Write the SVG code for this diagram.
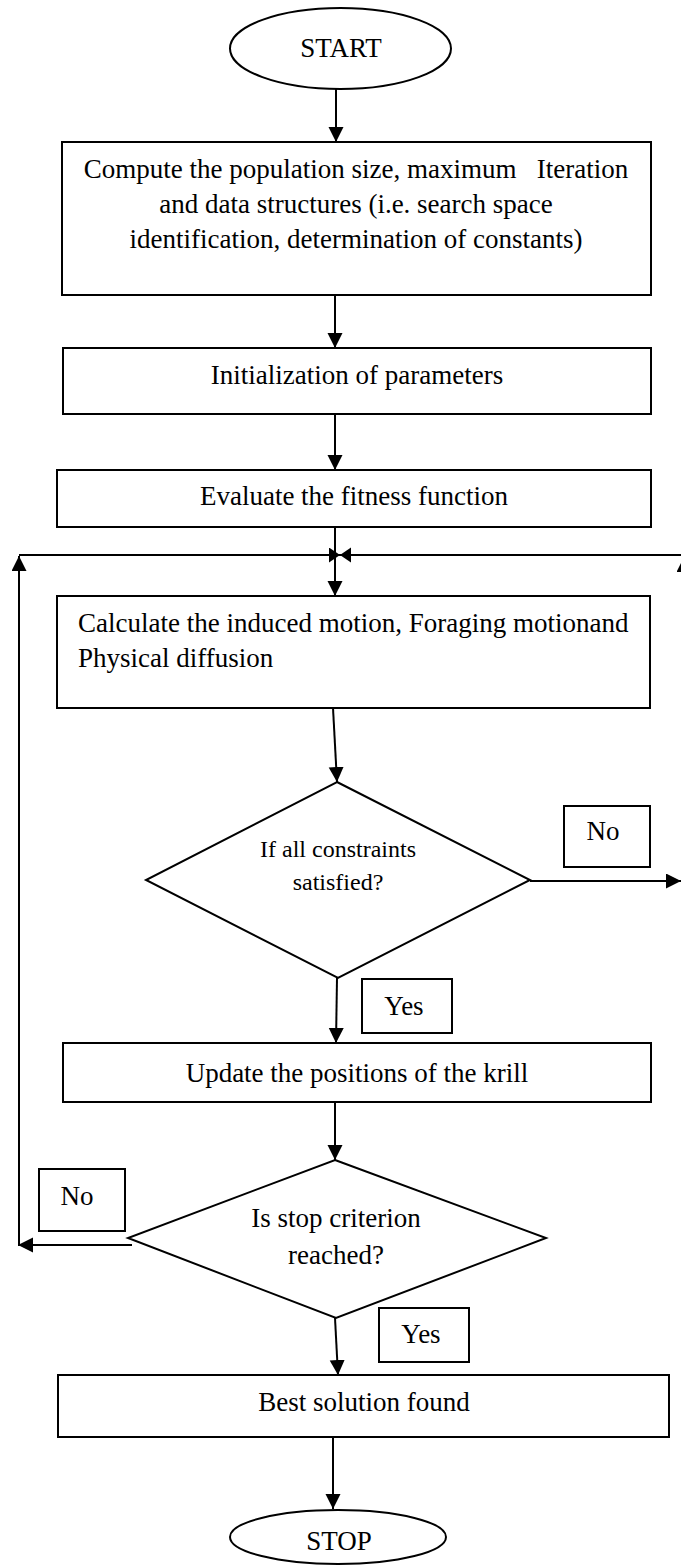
<svg xmlns="http://www.w3.org/2000/svg" width="681" height="1565" viewBox="0 0 681 1565">
<style>
.shape{fill:#fff;stroke:#000;stroke-width:2}
.lbl{fill:#fff;stroke:#000;stroke-width:2}
.t{font-family:"Liberation Serif","Times New Roman",serif;font-size:27px;fill:#000;text-anchor:middle}
.ts{font-family:"Liberation Serif","Times New Roman",serif;font-size:24px;fill:#000;text-anchor:middle}
.tl{font-family:"Liberation Serif","Times New Roman",serif;font-size:27px;fill:#000;text-anchor:start}
.c{fill:none;stroke:#000;stroke-width:2}
</style>
<defs>
<marker id="ah" markerUnits="userSpaceOnUse" markerWidth="16" markerHeight="16" refX="15" refY="7.5" orient="auto"><path d="M0,0 L15,7.5 L0,15 Z" fill="#000"/></marker>
<marker id="ahs" markerUnits="userSpaceOnUse" markerWidth="12" markerHeight="16" refX="11" refY="7.5" orient="auto"><path d="M0,0 L11,7.5 L0,15 Z" fill="#000"/></marker>
</defs>
<rect width="681" height="1565" fill="#fff"/>
<g id="connectors">
<path class="c" d="M336,89 L336,142" marker-end="url(#ah)"/>
<path class="c" d="M335,295 L335,348" marker-end="url(#ah)"/>
<path class="c" d="M335,414 L335,470" marker-end="url(#ah)"/>
<path class="c" d="M335,527 L335,596" marker-end="url(#ah)"/>
<path class="c" d="M19,555 L340,555" marker-end="url(#ahs)"/>
<path class="c" d="M685,555 L340,555" marker-end="url(#ahs)"/>
<path class="c" d="M333,708 L337,782" marker-end="url(#ah)"/>
<path class="c" d="M530,881 L681,881" marker-end="url(#ah)"/>
<path class="c" d="M684,881 L684,557" marker-end="url(#ah)"/>
<path class="c" d="M337,978 L336,1043" marker-end="url(#ah)"/>
<path class="c" d="M335,1102 L335,1160" marker-end="url(#ah)"/>
<path class="c" d="M132,1245 L18,1245" marker-end="url(#ah)"/>
<path class="c" d="M19,1245 L19,556" marker-end="url(#ah)"/>
<path class="c" d="M335,1318 L338,1375" marker-end="url(#ah)"/>
<path class="c" d="M333,1437 L333,1509" marker-end="url(#ah)"/>
</g>
<g id="start">
<ellipse class="shape" cx="340.5" cy="48.5" rx="110.5" ry="40.5"/>
<text class="t" x="341" y="57">START</text>
</g>
<g id="compute">
<rect class="shape" x="62" y="142" width="589" height="153"/>
<text class="t" x="356" y="178" xml:space="preserve">Compute the population size, maximum   Iteration</text>
<text class="t" x="356" y="213">and data structures (i.e. search space</text>
<text class="t" x="356" y="248">identification, determination of constants)</text>
</g>
<g id="init">
<rect class="shape" x="63" y="348" width="588" height="66"/>
<text class="t" x="357" y="384">Initialization of parameters</text>
</g>
<g id="evaluate">
<rect class="shape" x="57" y="470" width="594" height="57"/>
<text class="t" x="354" y="505">Evaluate the fitness function</text>
</g>
<g id="calculate">
<rect class="shape" x="57" y="596" width="593" height="112"/>
<text class="tl" x="78" y="632">Calculate the induced motion, Foraging motionand</text>
<text class="tl" x="78" y="667">Physical diffusion</text>
</g>
<g id="constraints">
<polygon class="shape" points="337,782 530,880 338,978 146,880"/>
<text class="ts" x="338" y="857">If all constraints</text>
<text class="ts" x="338" y="890">satisfied?</text>
</g>
<g id="no1">
<rect class="lbl" x="564" y="806" width="86" height="61"/>
<text class="t" x="603" y="840">No</text>
</g>
<g id="yes1">
<rect class="lbl" x="362" y="979" width="90" height="54"/>
<text class="t" x="404" y="1015">Yes</text>
</g>
<g id="update">
<rect class="shape" x="63" y="1043" width="588" height="59"/>
<text class="t" x="357" y="1082">Update the positions of the krill</text>
</g>
<g id="stopcrit">
<polygon class="shape" points="335,1160 546,1238 336,1318 128,1238"/>
<text class="t" x="336" y="1227">Is stop criterion</text>
<text class="t" x="336" y="1264">reached?</text>
</g>
<g id="no2">
<rect class="lbl" x="39" y="1169" width="86" height="62"/>
<text class="t" x="77" y="1205">No</text>
</g>
<g id="yes2">
<rect class="lbl" x="379" y="1308" width="90" height="54"/>
<text class="t" x="421" y="1343">Yes</text>
</g>
<g id="best">
<rect class="shape" x="58" y="1375" width="611" height="62"/>
<text class="t" x="364" y="1411">Best solution found</text>
</g>
<g id="stop">
<ellipse class="shape" cx="338" cy="1537" rx="108" ry="27"/>
<text class="t" x="339" y="1550">STOP</text>
</g>
</svg>
